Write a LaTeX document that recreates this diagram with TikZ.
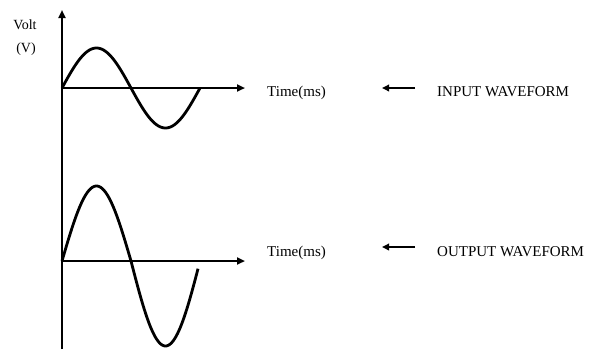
\documentclass[tikz,border=0pt]{standalone}
\usepackage{fontspec}
\setmainfont{Liberation Serif}
\usetikzlibrary{arrows.meta}
\begin{document}
\begin{tikzpicture}[x=1pt,y=-1pt,
  axis/.style={line width=2.3pt,-{Triangle[length=8pt,width=7pt]}},
  wave/.style={line width=2.8pt,line join=round},
  pointer/.style={line width=2.4pt,-{Triangle[length=7pt,width=6.5pt]}},
  lbl/.style={font=\fontsize{15}{17}\selectfont,inner sep=0pt,anchor=west},
  slbl/.style={font=\fontsize{14}{16}\selectfont,inner sep=0pt,anchor=center}]
\useasboundingbox[fill=white] (0,0) rectangle (596,349);
% axes
\coordinate (ybot) at (62,349);
\coordinate (ytop) at (62,10);
\draw[axis] (ybot) -- (ytop);
\coordinate (o1) at (62,88);
\coordinate (t1) at (245,88);
\draw[axis] (o1) -- (t1);
\coordinate (o2) at (62,261);
\coordinate (t2) at (245,261);
\draw[axis] (o2) -- (t2);
% waves
\draw[wave] plot[domain=0:138,samples=120,smooth] ({62+\x},{88-40*sin(\x/138*360)});
\draw[wave] plot[domain=0:69,samples=60,smooth] ({62+\x},{261-75*sin(\x/138*360)})
  -- plot[domain=69:136,samples=60,smooth] ({62+\x},{261-85*sin(\x/138*360)});
% labels
\node[slbl] (volt) at (25,25) {Volt};
\node[slbl] (vunit) at (26,49) {(V)};
\node[lbl] (time1) at (267,93) {Time(ms)};
\node[lbl] (time2) at (267,253) {Time(ms)};
\node[lbl] (inp) at (437,92) {INPUT WAVEFORM};
\node[lbl] (outp) at (437,252) {OUTPUT WAVEFORM};
% pointers
\coordinate (p1s) at (415,88);
\coordinate (p1e) at (382,88);
\draw[pointer] (p1s) -- (p1e);
\coordinate (p2s) at (415,247);
\coordinate (p2e) at (382,247);
\draw[pointer] (p2s) -- (p2e);
\end{tikzpicture}
\end{document}
